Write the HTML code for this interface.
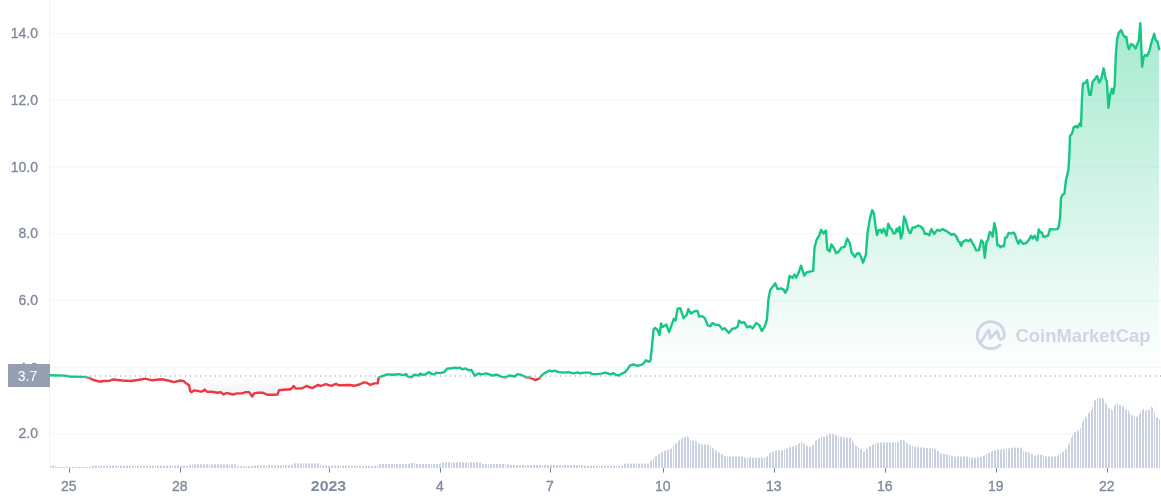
<!DOCTYPE html>
<html lang="en"><head><meta charset="utf-8"><title>Price chart</title>
<style>
html,body{margin:0;padding:0;background:#fff;}
body{width:1161px;height:500px;overflow:hidden;}
svg{display:block;will-change:transform}
text{font-family:"Liberation Sans",sans-serif;}
.yl{font-size:14px;fill:#808a9d;text-anchor:end;stroke:#808a9d;stroke-width:0.35px}
.xl{font-size:14px;fill:#808a9d;text-anchor:middle;stroke:#808a9d;stroke-width:0.35px}
.xb{font-weight:bold;stroke-width:0}
</style></head><body>
<svg width="1161" height="500" viewBox="0 0 1161 500">
<defs>
<linearGradient id="gUp" gradientUnits="userSpaceOnUse" x1="0" y1="20" x2="0" y2="376.0">
<stop offset="0" stop-color="#16c784" stop-opacity="0.38"/><stop offset="1" stop-color="#16c784" stop-opacity="0"/></linearGradient>
<linearGradient id="gDn" gradientUnits="userSpaceOnUse" x1="0" y1="376.0" x2="0" y2="400">
<stop offset="0" stop-color="#8a93a8" stop-opacity="0"/><stop offset="1" stop-color="#8a93a8" stop-opacity="0.16"/></linearGradient>
<clipPath id="cUp"><rect x="0" y="0" width="1161" height="377.6"/></clipPath>
<clipPath id="cDn"><rect x="0" y="377.6" width="1161" height="122.39999999999998"/></clipPath>
</defs>
<rect width="1161" height="500" fill="#fff"/>

<line x1="50" x2="1161" y1="33.5" y2="33.5" stroke="#f4f6f9" stroke-width="1"/>
<line x1="50" x2="1161" y1="100.4" y2="100.4" stroke="#f4f6f9" stroke-width="1"/>
<line x1="50" x2="1161" y1="167" y2="167" stroke="#f4f6f9" stroke-width="1"/>
<line x1="50" x2="1161" y1="233.7" y2="233.7" stroke="#f4f6f9" stroke-width="1"/>
<line x1="50" x2="1161" y1="300.6" y2="300.6" stroke="#f4f6f9" stroke-width="1"/>
<line x1="50" x2="1161" y1="367.3" y2="367.3" stroke="#f4f6f9" stroke-width="1"/>
<line x1="50" x2="1161" y1="433.8" y2="433.8" stroke="#f4f6f9" stroke-width="1"/>
<line x1="49.5" x2="49.5" y1="0" y2="466" stroke="#f0f2f6" stroke-width="1"/>
<text class="yl" x="38" y="38.1">14.0</text>
<text class="yl" x="38" y="105">12.0</text>
<text class="yl" x="38" y="171.6">10.0</text>
<text class="yl" x="38" y="238.3">8.0</text>
<text class="yl" x="38" y="305.2">6.0</text>
<text class="yl" x="38" y="372.6">4.0</text>
<text class="yl" x="38" y="438.4">2.0</text>
<path d="M50.5 468.0v-2.6M52.5 468.0v-2.6M53.5 468.0v-2.6M55.5 468.0v-1.9M56.5 468.0v-1.1M58.5 468.0v-1.1M59.5 468.0v-1.1M61.5 468.0v-1.1M63.5 468.0v-1.1M64.5 468.0v-1.1M66.5 468.0v-1.1M67.5 468.0v-1.1M69.5 468.0v-1.1M70.5 468.0v-1.1M72.5 468.0v-1.1M73.5 468.0v-1.1M75.5 468.0v-1.1M76.5 468.0v-1.1M78.5 468.0v-1.1M79.5 468.0v-1.1M81.5 468.0v-1.1M83.5 468.0v-1.1M84.5 468.0v-1.1M86.5 468.0v-1.1M87.5 468.0v-1.1M89.5 468.0v-1.1M90.5 468.0v-1.4M92.5 468.0v-2.3M93.5 468.0v-2.3M95.5 468.0v-2.3M96.5 468.0v-2.3M98.5 468.0v-2.3M100.5 468.0v-2.3M101.5 468.0v-2.3M103.5 468.0v-2.3M104.5 468.0v-2.3M106.5 468.0v-2.3M107.5 468.0v-2.3M109.5 468.0v-2.3M110.5 468.0v-2.3M112.5 468.0v-2.3M113.5 468.0v-2.3M115.5 468.0v-2.3M116.5 468.0v-2.3M118.5 468.0v-2.3M120.5 468.0v-2.3M121.5 468.0v-2.3M123.5 468.0v-2.3M124.5 468.0v-2.3M126.5 468.0v-2.3M127.5 468.0v-2.3M129.5 468.0v-2.3M130.5 468.0v-2.3M132.5 468.0v-2.3M133.5 468.0v-2.3M135.5 468.0v-2.3M137.5 468.0v-2.3M138.5 468.0v-2.3M140.5 468.0v-2.3M141.5 468.0v-2.3M143.5 468.0v-2.3M144.5 468.0v-2.3M146.5 468.0v-2.3M147.5 468.0v-2.3M149.5 468.0v-2.3M150.5 468.0v-2.3M152.5 468.0v-2.3M153.5 468.0v-2.3M155.5 468.0v-2.3M157.5 468.0v-2.3M158.5 468.0v-2.3M160.5 468.0v-2.3M161.5 468.0v-2.3M163.5 468.0v-2.3M164.5 468.0v-2.3M166.5 468.0v-2.3M167.5 468.0v-2.3M169.5 468.0v-2.3M170.5 468.0v-2.3M172.5 468.0v-2.3M174.5 468.0v-2.3M175.5 468.0v-2.3M177.5 468.0v-2.3M178.5 468.0v-2.3M180.5 468.0v-2.3M181.5 468.0v-2.3M183.5 468.0v-2.3M184.5 468.0v-2.3M186.5 468.0v-2.3M187.5 468.0v-2.3M189.5 468.0v-2.6M190.5 468.0v-3.4M192.5 468.0v-3.7M194.5 468.0v-3.7M195.5 468.0v-3.7M197.5 468.0v-3.7M198.5 468.0v-3.7M200.5 468.0v-3.7M201.5 468.0v-3.7M203.5 468.0v-3.7M204.5 468.0v-3.7M206.5 468.0v-3.7M207.5 468.0v-3.7M209.5 468.0v-3.7M211.5 468.0v-3.7M212.5 468.0v-3.7M214.5 468.0v-3.7M215.5 468.0v-3.7M217.5 468.0v-3.7M218.5 468.0v-3.7M220.5 468.0v-3.7M221.5 468.0v-3.7M223.5 468.0v-3.7M224.5 468.0v-3.7M226.5 468.0v-3.7M227.5 468.0v-3.7M229.5 468.0v-3.7M231.5 468.0v-3.7M232.5 468.0v-3.7M234.5 468.0v-3.7M235.5 468.0v-3.2M237.5 468.0v-1.8M238.5 468.0v-1.8M240.5 468.0v-1.8M241.5 468.0v-1.8M243.5 468.0v-1.8M244.5 468.0v-1.8M246.5 468.0v-1.8M248.5 468.0v-1.8M249.5 468.0v-1.8M251.5 468.0v-1.8M252.5 468.0v-1.8M254.5 468.0v-2.5M255.5 468.0v-2.8M257.5 468.0v-2.8M258.5 468.0v-2.8M260.5 468.0v-2.8M261.5 468.0v-2.8M263.5 468.0v-2.8M264.5 468.0v-2.8M266.5 468.0v-2.8M268.5 468.0v-2.8M269.5 468.0v-2.8M271.5 468.0v-2.8M272.5 468.0v-2.8M274.5 468.0v-2.8M275.5 468.0v-2.8M277.5 468.0v-2.8M278.5 468.0v-2.8M280.5 468.0v-2.8M281.5 468.0v-2.8M283.5 468.0v-2.8M285.5 468.0v-2.8M286.5 468.0v-2.8M288.5 468.0v-2.8M289.5 468.0v-2.8M291.5 468.0v-2.8M292.5 468.0v-3.2M294.5 468.0v-4.6M295.5 468.0v-4.6M297.5 468.0v-4.6M298.5 468.0v-4.6M300.5 468.0v-4.6M301.5 468.0v-4.6M303.5 468.0v-4.6M305.5 468.0v-4.6M306.5 468.0v-4.6M308.5 468.0v-4.6M309.5 468.0v-4.6M311.5 468.0v-4.6M312.5 468.0v-4.6M314.5 468.0v-4.6M315.5 468.0v-4.6M317.5 468.0v-4.6M318.5 468.0v-4.6M320.5 468.0v-3.1M322.5 468.0v-2.6M323.5 468.0v-2.6M325.5 468.0v-2.6M326.5 468.0v-2.6M328.5 468.0v-2.5M329.5 468.0v-2.5M331.5 468.0v-2.5M332.5 468.0v-2.5M334.5 468.0v-2.5M335.5 468.0v-2.5M337.5 468.0v-2.5M338.5 468.0v-2.5M340.5 468.0v-2.5M342.5 468.0v-2.5M343.5 468.0v-2.4M345.5 468.0v-2.4M346.5 468.0v-2.4M348.5 468.0v-2.4M349.5 468.0v-2.4M351.5 468.0v-2.4M352.5 468.0v-2.4M354.5 468.0v-2.4M355.5 468.0v-2.3M357.5 468.0v-2.3M359.5 468.0v-2.3M360.5 468.0v-2.3M362.5 468.0v-2.3M363.5 468.0v-2.2M365.5 468.0v-2.2M366.5 468.0v-2.2M368.5 468.0v-2.2M369.5 468.0v-2.2M371.5 468.0v-2.2M372.5 468.0v-2.1M374.5 468.0v-2.1M375.5 468.0v-2.1M377.5 468.0v-2.6M379.5 468.0v-4.1M380.5 468.0v-4.1M382.5 468.0v-4.1M383.5 468.0v-4.1M385.5 468.0v-4.1M386.5 468.0v-4.1M388.5 468.0v-4.1M389.5 468.0v-4.1M391.5 468.0v-4.1M392.5 468.0v-4.1M394.5 468.0v-4.1M396.5 468.0v-4.1M397.5 468.0v-4.1M399.5 468.0v-4.1M400.5 468.0v-4.1M402.5 468.0v-4.1M403.5 468.0v-4.1M405.5 468.0v-4.1M406.5 468.0v-4.1M408.5 468.0v-4.1M409.5 468.0v-4.4M411.5 468.0v-5.2M412.5 468.0v-5.2M414.5 468.0v-5.2M416.5 468.0v-4.3M417.5 468.0v-4M419.5 468.0v-4M420.5 468.0v-4M422.5 468.0v-4M423.5 468.0v-4M425.5 468.0v-4M426.5 468.0v-4M428.5 468.0v-4M429.5 468.0v-4M431.5 468.0v-4M433.5 468.0v-4M434.5 468.0v-4M436.5 468.0v-4M437.5 468.0v-4M439.5 468.0v-4.4M440.5 468.0v-5.3M442.5 468.0v-5.7M443.5 468.0v-5.7M445.5 468.0v-5.7M446.5 468.0v-5.7M448.5 468.0v-5.7M449.5 468.0v-5.7M451.5 468.0v-5.7M453.5 468.0v-5.7M454.5 468.0v-5.7M456.5 468.0v-5.7M457.5 468.0v-5.7M459.5 468.0v-5.7M460.5 468.0v-5.7M462.5 468.0v-5.7M463.5 468.0v-5.7M465.5 468.0v-5.7M466.5 468.0v-5.7M468.5 468.0v-5.7M470.5 468.0v-5.7M471.5 468.0v-5.7M473.5 468.0v-5.7M474.5 468.0v-5.7M476.5 468.0v-5.7M477.5 468.0v-5.7M479.5 468.0v-5.7M480.5 468.0v-5.7M482.5 468.0v-4.4M483.5 468.0v-4M485.5 468.0v-4M486.5 468.0v-4M488.5 468.0v-4M490.5 468.0v-4M491.5 468.0v-4M493.5 468.0v-4M494.5 468.0v-4M496.5 468.0v-4M497.5 468.0v-4M499.5 468.0v-4M500.5 468.0v-4M502.5 468.0v-4M503.5 468.0v-4M505.5 468.0v-4M507.5 468.0v-3.8M508.5 468.0v-3.2M510.5 468.0v-3M511.5 468.0v-3M513.5 468.0v-3M514.5 468.0v-3M516.5 468.0v-3M517.5 468.0v-3M519.5 468.0v-3M520.5 468.0v-3M522.5 468.0v-3M523.5 468.0v-3M525.5 468.0v-3M527.5 468.0v-3M528.5 468.0v-3M530.5 468.0v-3M531.5 468.0v-3M533.5 468.0v-3M534.5 468.0v-3M536.5 468.0v-3M537.5 468.0v-3M539.5 468.0v-3M540.5 468.0v-3M542.5 468.0v-3M544.5 468.0v-3M545.5 468.0v-3M547.5 468.0v-3M548.5 468.0v-3M550.5 468.0v-3M551.5 468.0v-3M553.5 468.0v-3M554.5 468.0v-3M556.5 468.0v-3M557.5 468.0v-3M559.5 468.0v-3M560.5 468.0v-3M562.5 468.0v-3M564.5 468.0v-3M565.5 468.0v-3M567.5 468.0v-3M568.5 468.0v-3M570.5 468.0v-3M571.5 468.0v-3M573.5 468.0v-3M574.5 468.0v-3M576.5 468.0v-3M577.5 468.0v-3M579.5 468.0v-3M581.5 468.0v-3M582.5 468.0v-2.8M584.5 468.0v-2.3M585.5 468.0v-2.3M587.5 468.0v-2.3M588.5 468.0v-2.3M590.5 468.0v-2.3M591.5 468.0v-2.3M593.5 468.0v-2.3M594.5 468.0v-2.3M596.5 468.0v-2.3M597.5 468.0v-2.3M599.5 468.0v-2.3M601.5 468.0v-2.3M602.5 468.0v-2.3M604.5 468.0v-2.3M605.5 468.0v-2.3M607.5 468.0v-2.3M608.5 468.0v-2.3M610.5 468.0v-2.3M611.5 468.0v-2.3M613.5 468.0v-2.3M614.5 468.0v-2.3M616.5 468.0v-2.3M618.5 468.0v-2.3M619.5 468.0v-2.3M621.5 468.0v-2.3M622.5 468.0v-2.3M624.5 468.0v-4M625.5 468.0v-4.5M627.5 468.0v-4.5M628.5 468.0v-4.5M630.5 468.0v-4.5M631.5 468.0v-4.5M633.5 468.0v-4.5M634.5 468.0v-4.5M636.5 468.0v-4.5M638.5 468.0v-4.5M639.5 468.0v-4.5M641.5 468.0v-4.5M642.5 468.0v-4.5M644.5 468.0v-4.5M645.5 468.0v-4.5M647.5 468.0v-4.5M648.5 468.0v-4.5M650.5 468.0v-6.5M651.5 468.0v-7.9M653.5 468.0v-10M655.5 468.0v-11.5M656.5 468.0v-12.3M658.5 468.0v-13.7M659.5 468.0v-14.3M661.5 468.0v-15.6M662.5 468.0v-16.2M664.5 468.0v-17.2M665.5 468.0v-17.5M667.5 468.0v-18.2M668.5 468.0v-18.5M670.5 468.0v-19.2M671.5 468.0v-19.6M673.5 468.0v-22M675.5 468.0v-24.3M676.5 468.0v-25.5M678.5 468.0v-27.2M679.5 468.0v-28M681.5 468.0v-29.7M682.5 468.0v-30.1M684.5 468.0v-30.8M685.5 468.0v-31.2M687.5 468.0v-32M688.5 468.0v-30.8M690.5 468.0v-28M692.5 468.0v-27.6M693.5 468.0v-27.3M695.5 468.0v-26.8M696.5 468.0v-26.2M698.5 468.0v-25M699.5 468.0v-24.4M701.5 468.0v-23.7M702.5 468.0v-23.7M704.5 468.0v-23.6M705.5 468.0v-23.6M707.5 468.0v-23.5M708.5 468.0v-23.5M710.5 468.0v-22.3M712.5 468.0v-20.4M713.5 468.0v-19.5M715.5 468.0v-17.9M716.5 468.0v-17.2M718.5 468.0v-15.9M719.5 468.0v-15.2M721.5 468.0v-14.1M722.5 468.0v-13.6M724.5 468.0v-12.5M725.5 468.0v-11.9M727.5 468.0v-11.4M729.5 468.0v-11.4M730.5 468.0v-11.4M732.5 468.0v-11.4M733.5 468.0v-11.4M735.5 468.0v-11.4M736.5 468.0v-11.4M738.5 468.0v-11.4M739.5 468.0v-11.4M741.5 468.0v-11.4M742.5 468.0v-11.2M744.5 468.0v-10.6M745.5 468.0v-10.3M747.5 468.0v-10.3M749.5 468.0v-10.3M750.5 468.0v-10.3M752.5 468.0v-10.3M753.5 468.0v-10.3M755.5 468.0v-10.3M756.5 468.0v-10.3M758.5 468.0v-10.3M759.5 468.0v-10.3M761.5 468.0v-10.3M762.5 468.0v-10.3M764.5 468.0v-10.3M766.5 468.0v-10.9M767.5 468.0v-12.3M769.5 468.0v-15.1M770.5 468.0v-15.5M772.5 468.0v-16.3M773.5 468.0v-16.7M775.5 468.0v-17.3M776.5 468.0v-17.4M778.5 468.0v-17.6M779.5 468.0v-17.7M781.5 468.0v-17.9M782.5 468.0v-18M784.5 468.0v-18.2M786.5 468.0v-19.1M787.5 468.0v-19.7M789.5 468.0v-20.8M790.5 468.0v-21.2M792.5 468.0v-21.6M793.5 468.0v-21.7M795.5 468.0v-22.1M796.5 468.0v-22.9M798.5 468.0v-24.3M799.5 468.0v-25M801.5 468.0v-26.3M803.5 468.0v-24.7M804.5 468.0v-23.9M806.5 468.0v-22.6M807.5 468.0v-22.2M809.5 468.0v-21.5M810.5 468.0v-21.1M812.5 468.0v-22M813.5 468.0v-23.8M815.5 468.0v-27.1M816.5 468.0v-27.8M818.5 468.0v-29.1M819.5 468.0v-29.8M821.5 468.0v-30.9M823.5 468.0v-31.2M824.5 468.0v-31.4M826.5 468.0v-32.4M827.5 468.0v-33.1M829.5 468.0v-34.4M830.5 468.0v-34.3M832.5 468.0v-34M833.5 468.0v-33.9M835.5 468.0v-33.3M836.5 468.0v-32.8M838.5 468.0v-31.8M840.5 468.0v-31.3M841.5 468.0v-31.1M843.5 468.0v-30.7M844.5 468.0v-30.6M846.5 468.0v-30.3M847.5 468.0v-30.3M849.5 468.0v-30.3M850.5 468.0v-30.3M852.5 468.0v-27.5M853.5 468.0v-25.6M855.5 468.0v-23M856.5 468.0v-22.3M858.5 468.0v-20.8M860.5 468.0v-19.2M861.5 468.0v-18.3M863.5 468.0v-16.4M864.5 468.0v-16.6M866.5 468.0v-18.6M867.5 468.0v-19.6M869.5 468.0v-21.4M870.5 468.0v-22M872.5 468.0v-23.1M873.5 468.0v-23.7M875.5 468.0v-24.7M877.5 468.0v-25.2M878.5 468.0v-25.5M880.5 468.0v-25.5M881.5 468.0v-25.5M883.5 468.0v-25.5M884.5 468.0v-25.5M886.5 468.0v-25.5M887.5 468.0v-25.5M889.5 468.0v-25.5M890.5 468.0v-25.5M892.5 468.0v-25.5M893.5 468.0v-25.5M895.5 468.0v-25.5M897.5 468.0v-25.5M898.5 468.0v-26.1M900.5 468.0v-27.5M901.5 468.0v-28.1M903.5 468.0v-28.2M904.5 468.0v-27.2M906.5 468.0v-25.4M907.5 468.0v-24.4M909.5 468.0v-23.4M910.5 468.0v-23M912.5 468.0v-22.1M914.5 468.0v-21.3M915.5 468.0v-21.1M917.5 468.0v-20.9M918.5 468.0v-20.8M920.5 468.0v-20.6M921.5 468.0v-20.5M923.5 468.0v-20.3M924.5 468.0v-20.2M926.5 468.0v-20.1M927.5 468.0v-20M929.5 468.0v-19.9M930.5 468.0v-19.8M932.5 468.0v-19.6M934.5 468.0v-19.5M935.5 468.0v-18.7M937.5 468.0v-17.2M938.5 468.0v-16.4M940.5 468.0v-14.9M941.5 468.0v-14.6M943.5 468.0v-14.2M944.5 468.0v-14M946.5 468.0v-13.6M947.5 468.0v-13.4M949.5 468.0v-12.8M951.5 468.0v-12.2M952.5 468.0v-11.9M954.5 468.0v-11.4M955.5 468.0v-11.4M957.5 468.0v-11.4M958.5 468.0v-11.4M960.5 468.0v-11.4M961.5 468.0v-11.4M963.5 468.0v-11.4M964.5 468.0v-11.4M966.5 468.0v-11.4M967.5 468.0v-11.2M969.5 468.0v-10.8M971.5 468.0v-10.4M972.5 468.0v-10.4M974.5 468.0v-10.5M975.5 468.0v-10.5M977.5 468.0v-10.6M978.5 468.0v-10.7M980.5 468.0v-10.8M981.5 468.0v-10.8M983.5 468.0v-12M984.5 468.0v-12.8M986.5 468.0v-14M988.5 468.0v-15M989.5 468.0v-15.5M991.5 468.0v-16.5M992.5 468.0v-16.9M994.5 468.0v-17.5M995.5 468.0v-17.7M997.5 468.0v-18.3M998.5 468.0v-18.3M1000.5 468.0v-18.3M1001.5 468.0v-18.4M1003.5 468.0v-18.7M1004.5 468.0v-18.8M1006.5 468.0v-19.2M1008.5 468.0v-19.5M1009.5 468.0v-19.7M1011.5 468.0v-20M1012.5 468.0v-20.2M1014.5 468.0v-20.4M1015.5 468.0v-20.4M1017.5 468.0v-20.4M1018.5 468.0v-20.4M1020.5 468.0v-20.3M1021.5 468.0v-19.2M1023.5 468.0v-17M1025.5 468.0v-16.3M1026.5 468.0v-16M1028.5 468.0v-15.6M1029.5 468.0v-15.4M1031.5 468.0v-14.3M1032.5 468.0v-13.7M1034.5 468.0v-12.6M1035.5 468.0v-12.6M1037.5 468.0v-13M1038.5 468.0v-13.3M1040.5 468.0v-13.4M1041.5 468.0v-13.1M1043.5 468.0v-12.4M1045.5 468.0v-11.7M1046.5 468.0v-11.5M1048.5 468.0v-11.5M1049.5 468.0v-11.5M1051.5 468.0v-11.4M1052.5 468.0v-11.4M1054.5 468.0v-11.3M1055.5 468.0v-11.3M1057.5 468.0v-11.8M1058.5 468.0v-13M1060.5 468.0v-14.7M1062.5 468.0v-15.9M1063.5 468.0v-16.5M1065.5 468.0v-18.4M1066.5 468.0v-19.4M1068.5 468.0v-23.2M1069.5 468.0v-25.5M1071.5 468.0v-30.3M1072.5 468.0v-32.7M1074.5 468.0v-35.1M1075.5 468.0v-36.1M1077.5 468.0v-37.2M1078.5 468.0v-37.7M1080.5 468.0v-40.1M1082.5 468.0v-45.8M1083.5 468.0v-48.3M1085.5 468.0v-50.3M1086.5 468.0v-51.3M1088.5 468.0v-54.7M1089.5 468.0v-56.3M1091.5 468.0v-58M1092.5 468.0v-61.2M1094.5 468.0v-67.4M1095.5 468.0v-68.4M1097.5 468.0v-69.8M1099.5 468.0v-69.9M1100.5 468.0v-70M1102.5 468.0v-70.2M1103.5 468.0v-69.4M1105.5 468.0v-64.8M1106.5 468.0v-63.8M1108.5 468.0v-60.6M1109.5 468.0v-59.1M1111.5 468.0v-58M1112.5 468.0v-57.4M1114.5 468.0v-61.5M1115.5 468.0v-64.2M1117.5 468.0v-64.7M1119.5 468.0v-63M1120.5 468.0v-62.6M1122.5 468.0v-62M1123.5 468.0v-61.3M1125.5 468.0v-58.7M1126.5 468.0v-58.6M1128.5 468.0v-57.9M1129.5 468.0v-54.9M1131.5 468.0v-52.9M1132.5 468.0v-52.7M1134.5 468.0v-51.6M1136.5 468.0v-51M1137.5 468.0v-51.7M1139.5 468.0v-53.9M1140.5 468.0v-55.6M1142.5 468.0v-58.2M1143.5 468.0v-59.3M1145.5 468.0v-57.2M1146.5 468.0v-57.4M1148.5 468.0v-58M1149.5 468.0v-58.3M1151.5 468.0v-61.2M1152.5 468.0v-60.3M1154.5 468.0v-55.2M1156.5 468.0v-50.9M1157.5 468.0v-50.2M1159.5 468.0v-48.8" stroke="#c9d0e2" stroke-width="1" fill="none"/>
<path d="M50 375.3 L65.5 375.6 L70.7 376.8 L84.1 376.9 L89.3 377.9 L93.4 380 L99.6 381.7 L103.7 381 L109.9 380.7 L113 379.5 L122.4 380.5 L130.6 381 L137.9 380 L145.1 378.6 L152.3 380.3 L161.6 379.3 L170 381 L174.1 382.1 L180.3 380.5 L183.4 381 L186.5 383.6 L189.1 385.2 L190.2 391.4 L191.7 392.1 L194.3 390.3 L201 391.7 L203.6 390.8 L204.6 389.6 L207.2 391.9 L211.3 391.7 L217.5 392.7 L220.6 392.1 L223.7 394.5 L226.3 392.9 L233 394.5 L237.2 393.4 L242.4 393.4 L245.5 392.1 L249.1 392.1 L252.2 396.5 L254.2 393.4 L257.9 392.7 L263 392.7 L267.2 394.8 L273.4 394.8 L277.5 394.5 L279 390.3 L283.7 389.8 L290 389.3 L290 389.6 L292.1 388.1 L293.6 386 L295.7 388.6 L302.4 388.3 L306.5 386 L312.2 388.1 L317.9 385 L321 386 L325.7 384.1 L331.3 385.8 L336 383.9 L338.6 385.2 L349.9 385 L354.1 385.8 L359.3 384.5 L363.9 382.4 L367 382.9 L370.1 384.8 L374.2 383.4 L377.6 383.4 L378.7 377.7 L381 376.7 L387.2 374.4 L393.4 374.8 L398.5 374.1 L403.7 375.2 L406.3 374.1 L407.8 376.7 L410 377.2 L412.1 376.9 L414.1 374.6 L418.8 375.5 L420.3 373.6 L422.4 374.8 L425.5 374.6 L428.6 372.1 L432.2 374.1 L434.3 374.4 L436.4 372.6 L440 373.1 L444.1 372.1 L447.2 368.6 L451.3 368.2 L454.4 367.6 L457 368.2 L459.6 367.6 L462.2 369.3 L465.8 368.4 L468.4 370.3 L471.5 370 L474.6 375.7 L478.7 373.4 L481.3 374.4 L486.5 373.4 L492.7 375.7 L495.8 374.6 L498.9 375.5 L501.5 376.9 L506.1 377.2 L509.2 375.5 L514.9 376.5 L517.5 374.1 L522.1 375.2 L525.8 377.2 L530 377.5 L532.1 378.6 L535.2 380 L538.8 378.8 L542.4 374.8 L545.5 372.6 L549.6 370.5 L552.2 371.5 L554.3 370.7 L558.9 372.1 L563.1 372.6 L568.2 372.1 L573.4 373.4 L577.5 372.4 L580.6 373.4 L583.7 372.6 L589.9 372.6 L592 374.1 L596.1 374.1 L601.3 373.6 L605.5 372.6 L610.6 374.4 L613.2 373.1 L615.8 374.8 L618.9 375.5 L622 373.6 L625.1 372.1 L627.7 369 L630.3 365.3 L633.4 364.5 L637.5 365.9 L642.7 364.3 L646.1 360.3 L648.8 361.9 L650.4 360.6 L652 346.2 L653.6 329.4 L655.2 327.8 L657.6 330.2 L659.5 335 L661.1 323.5 L662.7 327 L666.4 324.6 L669.1 332.1 L672 323.8 L673.9 318.7 L675.5 320.6 L677.6 308.6 L680.3 308.1 L683.5 318.2 L686.7 315 L688.3 309.1 L690.9 313.4 L695.2 311 L697.6 311 L699.2 316.6 L702.4 316.1 L704.8 318.2 L708 325.7 L710.4 326.2 L712.3 323 L715.2 324.6 L719.2 325.1 L722.4 329.4 L724.8 328.3 L728.8 333.1 L732 328.9 L735.2 328.3 L737.6 326.7 L739 320.7 L741.6 322.9 L744.2 322.2 L747.1 327.3 L750 326.2 L752.6 328.4 L756.3 322.9 L759.2 325.1 L761.8 331 L764.7 326.6 L766.9 319.6 L768.4 299.8 L770.2 289.9 L772.8 286.6 L775.3 283.3 L777.5 289.2 L781.2 288.4 L783.8 289.9 L785.2 292.8 L787.4 288.8 L789.6 276 L792.6 277.8 L794.4 274.5 L796.2 277.8 L798.8 272.3 L801 265.7 L804.3 275.6 L806.5 272.3 L813.1 270.8 L814.6 247 L816.8 239.3 L819 236 L821.2 229.8 L823.4 233.4 L825.9 230.5 L827.4 249.6 L829.6 251.4 L831.4 244.4 L834 248.1 L836.2 253.2 L838.8 251.4 L841.7 247.4 L844.6 247 L847.2 238.6 L849.8 243 L851.6 252.5 L854.9 256.9 L857.1 253.5 L859.2 253.2 L860.9 256.7 L863 262.7 L865.9 254.6 L867.6 232.2 L869.7 219.6 L872.1 210.1 L873.9 213.3 L875.6 226.6 L877 235 L878.8 230.1 L880.5 229.7 L882 232.9 L883.7 228.7 L885.1 231.5 L886.5 235.7 L888.2 223.8 L890 228 L891.7 229.4 L893.5 233.6 L895.2 233.3 L896.7 228.7 L898.1 231.5 L899.5 226.9 L900.9 238.5 L902.6 232.9 L904 216.5 L905.7 220.3 L907.9 228.7 L909.6 232.9 L910.7 232.9 L912.4 227.7 L915.2 227.3 L918.3 225.5 L920.8 226.6 L923.2 229.1 L924.7 233.9 L927.1 233.6 L929.2 235.3 L931.3 229.1 L934.1 233.9 L937.3 229.7 L939.7 230.8 L942.5 229.1 L946 230.8 L951.6 234.7 L953.7 233.9 L956.5 236.7 L958.3 241.3 L959.7 242 L961.1 245.9 L962.8 242 L965.9 239.9 L968.7 241.3 L970.5 239.2 L972.6 243.4 L974 245.5 L976.1 250.4 L978.9 250.1 L981.3 240.3 L983.1 242 L984.8 257.7 L986.5 242 L987.9 239.9 L989.7 231.9 L991.5 233.3 L992.6 236.7 L994.3 223.1 L996 230.1 L997.4 245.5 L999.1 245.1 L1000.6 247.3 L1002.3 245.9 L1004 246.2 L1005.1 237.8 L1006.9 237.1 L1008.6 232.9 L1011.7 233.6 L1013.5 232.5 L1014.9 234.3 L1016.7 239.9 L1018.4 243.7 L1020.1 239.9 L1022.9 243.7 L1026.1 243.1 L1028.9 239.9 L1031 235.7 L1032.7 238.5 L1034.5 235.7 L1037.3 240.3 L1038.7 229.4 L1040.5 232.5 L1041.9 232.5 L1043.6 237.1 L1046.4 236.1 L1048.1 235.7 L1049.9 229.1 L1053.4 229.4 L1057.6 229.1 L1059 225.9 L1060.1 216.8 L1061 198 L1062.4 195 L1064.4 193.6 L1066 180 L1068.4 170 L1069.6 150 L1070 136 L1072 133.6 L1073.6 127.6 L1076 126 L1077.6 127.6 L1079.6 123.6 L1081 126 L1082 98 L1082.9 83.7 L1085.6 82.6 L1087.1 80 L1089.3 94.7 L1090.8 94.7 L1092.6 81.5 L1094.8 79.3 L1097 76 L1099.2 82.6 L1101.4 78.2 L1103.6 68.3 L1105.8 79.3 L1106.9 81.5 L1108.4 107.9 L1110.2 94.7 L1112 88.8 L1113.3 93.6 L1114.6 85.9 L1115.9 54 L1117.2 38.6 L1119 32.4 L1121.2 30.2 L1123.4 35.3 L1125.2 37.5 L1126.3 36.8 L1127.8 46.3 L1129.1 49.2 L1130.9 44.1 L1133.3 45.2 L1135.5 48.5 L1137.3 44.1 L1138.8 40.8 L1140.3 23.2 L1142.1 66.8 L1143.6 57.3 L1145 55.1 L1147.2 55.8 L1149.4 50.7 L1151.6 41.9 L1154.2 33.8 L1155.8 40.5 L1157.6 41.5 L1158.7 47.5 L1159.2 49 L1159.2 376.0 L50 376.0 Z" fill="url(#gUp)" clip-path="url(#cUp)"/>
<path d="M50 375.3 L65.5 375.6 L70.7 376.8 L84.1 376.9 L89.3 377.9 L93.4 380 L99.6 381.7 L103.7 381 L109.9 380.7 L113 379.5 L122.4 380.5 L130.6 381 L137.9 380 L145.1 378.6 L152.3 380.3 L161.6 379.3 L170 381 L174.1 382.1 L180.3 380.5 L183.4 381 L186.5 383.6 L189.1 385.2 L190.2 391.4 L191.7 392.1 L194.3 390.3 L201 391.7 L203.6 390.8 L204.6 389.6 L207.2 391.9 L211.3 391.7 L217.5 392.7 L220.6 392.1 L223.7 394.5 L226.3 392.9 L233 394.5 L237.2 393.4 L242.4 393.4 L245.5 392.1 L249.1 392.1 L252.2 396.5 L254.2 393.4 L257.9 392.7 L263 392.7 L267.2 394.8 L273.4 394.8 L277.5 394.5 L279 390.3 L283.7 389.8 L290 389.3 L290 389.6 L292.1 388.1 L293.6 386 L295.7 388.6 L302.4 388.3 L306.5 386 L312.2 388.1 L317.9 385 L321 386 L325.7 384.1 L331.3 385.8 L336 383.9 L338.6 385.2 L349.9 385 L354.1 385.8 L359.3 384.5 L363.9 382.4 L367 382.9 L370.1 384.8 L374.2 383.4 L377.6 383.4 L378.7 377.7 L381 376.7 L387.2 374.4 L393.4 374.8 L398.5 374.1 L403.7 375.2 L406.3 374.1 L407.8 376.7 L410 377.2 L412.1 376.9 L414.1 374.6 L418.8 375.5 L420.3 373.6 L422.4 374.8 L425.5 374.6 L428.6 372.1 L432.2 374.1 L434.3 374.4 L436.4 372.6 L440 373.1 L444.1 372.1 L447.2 368.6 L451.3 368.2 L454.4 367.6 L457 368.2 L459.6 367.6 L462.2 369.3 L465.8 368.4 L468.4 370.3 L471.5 370 L474.6 375.7 L478.7 373.4 L481.3 374.4 L486.5 373.4 L492.7 375.7 L495.8 374.6 L498.9 375.5 L501.5 376.9 L506.1 377.2 L509.2 375.5 L514.9 376.5 L517.5 374.1 L522.1 375.2 L525.8 377.2 L530 377.5 L532.1 378.6 L535.2 380 L538.8 378.8 L542.4 374.8 L545.5 372.6 L549.6 370.5 L552.2 371.5 L554.3 370.7 L558.9 372.1 L563.1 372.6 L568.2 372.1 L573.4 373.4 L577.5 372.4 L580.6 373.4 L583.7 372.6 L589.9 372.6 L592 374.1 L596.1 374.1 L601.3 373.6 L605.5 372.6 L610.6 374.4 L613.2 373.1 L615.8 374.8 L618.9 375.5 L622 373.6 L625.1 372.1 L627.7 369 L630.3 365.3 L633.4 364.5 L637.5 365.9 L642.7 364.3 L646.1 360.3 L648.8 361.9 L650.4 360.6 L652 346.2 L653.6 329.4 L655.2 327.8 L657.6 330.2 L659.5 335 L661.1 323.5 L662.7 327 L666.4 324.6 L669.1 332.1 L672 323.8 L673.9 318.7 L675.5 320.6 L677.6 308.6 L680.3 308.1 L683.5 318.2 L686.7 315 L688.3 309.1 L690.9 313.4 L695.2 311 L697.6 311 L699.2 316.6 L702.4 316.1 L704.8 318.2 L708 325.7 L710.4 326.2 L712.3 323 L715.2 324.6 L719.2 325.1 L722.4 329.4 L724.8 328.3 L728.8 333.1 L732 328.9 L735.2 328.3 L737.6 326.7 L739 320.7 L741.6 322.9 L744.2 322.2 L747.1 327.3 L750 326.2 L752.6 328.4 L756.3 322.9 L759.2 325.1 L761.8 331 L764.7 326.6 L766.9 319.6 L768.4 299.8 L770.2 289.9 L772.8 286.6 L775.3 283.3 L777.5 289.2 L781.2 288.4 L783.8 289.9 L785.2 292.8 L787.4 288.8 L789.6 276 L792.6 277.8 L794.4 274.5 L796.2 277.8 L798.8 272.3 L801 265.7 L804.3 275.6 L806.5 272.3 L813.1 270.8 L814.6 247 L816.8 239.3 L819 236 L821.2 229.8 L823.4 233.4 L825.9 230.5 L827.4 249.6 L829.6 251.4 L831.4 244.4 L834 248.1 L836.2 253.2 L838.8 251.4 L841.7 247.4 L844.6 247 L847.2 238.6 L849.8 243 L851.6 252.5 L854.9 256.9 L857.1 253.5 L859.2 253.2 L860.9 256.7 L863 262.7 L865.9 254.6 L867.6 232.2 L869.7 219.6 L872.1 210.1 L873.9 213.3 L875.6 226.6 L877 235 L878.8 230.1 L880.5 229.7 L882 232.9 L883.7 228.7 L885.1 231.5 L886.5 235.7 L888.2 223.8 L890 228 L891.7 229.4 L893.5 233.6 L895.2 233.3 L896.7 228.7 L898.1 231.5 L899.5 226.9 L900.9 238.5 L902.6 232.9 L904 216.5 L905.7 220.3 L907.9 228.7 L909.6 232.9 L910.7 232.9 L912.4 227.7 L915.2 227.3 L918.3 225.5 L920.8 226.6 L923.2 229.1 L924.7 233.9 L927.1 233.6 L929.2 235.3 L931.3 229.1 L934.1 233.9 L937.3 229.7 L939.7 230.8 L942.5 229.1 L946 230.8 L951.6 234.7 L953.7 233.9 L956.5 236.7 L958.3 241.3 L959.7 242 L961.1 245.9 L962.8 242 L965.9 239.9 L968.7 241.3 L970.5 239.2 L972.6 243.4 L974 245.5 L976.1 250.4 L978.9 250.1 L981.3 240.3 L983.1 242 L984.8 257.7 L986.5 242 L987.9 239.9 L989.7 231.9 L991.5 233.3 L992.6 236.7 L994.3 223.1 L996 230.1 L997.4 245.5 L999.1 245.1 L1000.6 247.3 L1002.3 245.9 L1004 246.2 L1005.1 237.8 L1006.9 237.1 L1008.6 232.9 L1011.7 233.6 L1013.5 232.5 L1014.9 234.3 L1016.7 239.9 L1018.4 243.7 L1020.1 239.9 L1022.9 243.7 L1026.1 243.1 L1028.9 239.9 L1031 235.7 L1032.7 238.5 L1034.5 235.7 L1037.3 240.3 L1038.7 229.4 L1040.5 232.5 L1041.9 232.5 L1043.6 237.1 L1046.4 236.1 L1048.1 235.7 L1049.9 229.1 L1053.4 229.4 L1057.6 229.1 L1059 225.9 L1060.1 216.8 L1061 198 L1062.4 195 L1064.4 193.6 L1066 180 L1068.4 170 L1069.6 150 L1070 136 L1072 133.6 L1073.6 127.6 L1076 126 L1077.6 127.6 L1079.6 123.6 L1081 126 L1082 98 L1082.9 83.7 L1085.6 82.6 L1087.1 80 L1089.3 94.7 L1090.8 94.7 L1092.6 81.5 L1094.8 79.3 L1097 76 L1099.2 82.6 L1101.4 78.2 L1103.6 68.3 L1105.8 79.3 L1106.9 81.5 L1108.4 107.9 L1110.2 94.7 L1112 88.8 L1113.3 93.6 L1114.6 85.9 L1115.9 54 L1117.2 38.6 L1119 32.4 L1121.2 30.2 L1123.4 35.3 L1125.2 37.5 L1126.3 36.8 L1127.8 46.3 L1129.1 49.2 L1130.9 44.1 L1133.3 45.2 L1135.5 48.5 L1137.3 44.1 L1138.8 40.8 L1140.3 23.2 L1142.1 66.8 L1143.6 57.3 L1145 55.1 L1147.2 55.8 L1149.4 50.7 L1151.6 41.9 L1154.2 33.8 L1155.8 40.5 L1157.6 41.5 L1158.7 47.5 L1159.2 49 L1159.2 376.0 L50 376.0 Z" fill="url(#gDn)" clip-path="url(#cDn)"/>
<line x1="50" x2="1161" y1="376.0" y2="376.0" stroke="#a6b0c3" stroke-width="1.6" stroke-dasharray="1 4"/>
<g fill="none" stroke="#cfd4e6" stroke-width="2.8" stroke-linecap="round" stroke-linejoin="round">
<path d="M1000 345 A13.5 13.5 0 1 1 1004.3 335"/>
<path d="M981.2 341.8 L987.9 330.6 Q988.9 329.2 989.3 331 L990.2 338.4 L996.3 332 Q997.4 330.8 997.8 332.6 L999 337.6 Q999.8 340 1002 339 Q1004.4 337.8 1004.3 335"/>
</g>
<text x="1015.5" y="342.3" font-size="18.5" font-weight="bold" fill="#cfd4e6" textLength="135" lengthAdjust="spacingAndGlyphs">CoinMarketCap</text>
<g fill="none" stroke-width="2.4" stroke-linejoin="round" stroke-linecap="round">
<path d="M50 375.3 L65.5 375.6 L70.7 376.8 L84.1 376.9 L89.3 377.9 L93.4 380 L99.6 381.7 L103.7 381 L109.9 380.7 L113 379.5 L122.4 380.5 L130.6 381 L137.9 380 L145.1 378.6 L152.3 380.3 L161.6 379.3 L170 381 L174.1 382.1 L180.3 380.5 L183.4 381 L186.5 383.6 L189.1 385.2 L190.2 391.4 L191.7 392.1 L194.3 390.3 L201 391.7 L203.6 390.8 L204.6 389.6 L207.2 391.9 L211.3 391.7 L217.5 392.7 L220.6 392.1 L223.7 394.5 L226.3 392.9 L233 394.5 L237.2 393.4 L242.4 393.4 L245.5 392.1 L249.1 392.1 L252.2 396.5 L254.2 393.4 L257.9 392.7 L263 392.7 L267.2 394.8 L273.4 394.8 L277.5 394.5 L279 390.3 L283.7 389.8 L290 389.3 L290 389.6 L292.1 388.1 L293.6 386 L295.7 388.6 L302.4 388.3 L306.5 386 L312.2 388.1 L317.9 385 L321 386 L325.7 384.1 L331.3 385.8 L336 383.9 L338.6 385.2 L349.9 385 L354.1 385.8 L359.3 384.5 L363.9 382.4 L367 382.9 L370.1 384.8 L374.2 383.4 L377.6 383.4 L378.7 377.7 L381 376.7 L387.2 374.4 L393.4 374.8 L398.5 374.1 L403.7 375.2 L406.3 374.1 L407.8 376.7 L410 377.2 L412.1 376.9 L414.1 374.6 L418.8 375.5 L420.3 373.6 L422.4 374.8 L425.5 374.6 L428.6 372.1 L432.2 374.1 L434.3 374.4 L436.4 372.6 L440 373.1 L444.1 372.1 L447.2 368.6 L451.3 368.2 L454.4 367.6 L457 368.2 L459.6 367.6 L462.2 369.3 L465.8 368.4 L468.4 370.3 L471.5 370 L474.6 375.7 L478.7 373.4 L481.3 374.4 L486.5 373.4 L492.7 375.7 L495.8 374.6 L498.9 375.5 L501.5 376.9 L506.1 377.2 L509.2 375.5 L514.9 376.5 L517.5 374.1 L522.1 375.2 L525.8 377.2 L530 377.5 L532.1 378.6 L535.2 380 L538.8 378.8 L542.4 374.8 L545.5 372.6 L549.6 370.5 L552.2 371.5 L554.3 370.7 L558.9 372.1 L563.1 372.6 L568.2 372.1 L573.4 373.4 L577.5 372.4 L580.6 373.4 L583.7 372.6 L589.9 372.6 L592 374.1 L596.1 374.1 L601.3 373.6 L605.5 372.6 L610.6 374.4 L613.2 373.1 L615.8 374.8 L618.9 375.5 L622 373.6 L625.1 372.1 L627.7 369 L630.3 365.3 L633.4 364.5 L637.5 365.9 L642.7 364.3 L646.1 360.3 L648.8 361.9 L650.4 360.6 L652 346.2 L653.6 329.4 L655.2 327.8 L657.6 330.2 L659.5 335 L661.1 323.5 L662.7 327 L666.4 324.6 L669.1 332.1 L672 323.8 L673.9 318.7 L675.5 320.6 L677.6 308.6 L680.3 308.1 L683.5 318.2 L686.7 315 L688.3 309.1 L690.9 313.4 L695.2 311 L697.6 311 L699.2 316.6 L702.4 316.1 L704.8 318.2 L708 325.7 L710.4 326.2 L712.3 323 L715.2 324.6 L719.2 325.1 L722.4 329.4 L724.8 328.3 L728.8 333.1 L732 328.9 L735.2 328.3 L737.6 326.7 L739 320.7 L741.6 322.9 L744.2 322.2 L747.1 327.3 L750 326.2 L752.6 328.4 L756.3 322.9 L759.2 325.1 L761.8 331 L764.7 326.6 L766.9 319.6 L768.4 299.8 L770.2 289.9 L772.8 286.6 L775.3 283.3 L777.5 289.2 L781.2 288.4 L783.8 289.9 L785.2 292.8 L787.4 288.8 L789.6 276 L792.6 277.8 L794.4 274.5 L796.2 277.8 L798.8 272.3 L801 265.7 L804.3 275.6 L806.5 272.3 L813.1 270.8 L814.6 247 L816.8 239.3 L819 236 L821.2 229.8 L823.4 233.4 L825.9 230.5 L827.4 249.6 L829.6 251.4 L831.4 244.4 L834 248.1 L836.2 253.2 L838.8 251.4 L841.7 247.4 L844.6 247 L847.2 238.6 L849.8 243 L851.6 252.5 L854.9 256.9 L857.1 253.5 L859.2 253.2 L860.9 256.7 L863 262.7 L865.9 254.6 L867.6 232.2 L869.7 219.6 L872.1 210.1 L873.9 213.3 L875.6 226.6 L877 235 L878.8 230.1 L880.5 229.7 L882 232.9 L883.7 228.7 L885.1 231.5 L886.5 235.7 L888.2 223.8 L890 228 L891.7 229.4 L893.5 233.6 L895.2 233.3 L896.7 228.7 L898.1 231.5 L899.5 226.9 L900.9 238.5 L902.6 232.9 L904 216.5 L905.7 220.3 L907.9 228.7 L909.6 232.9 L910.7 232.9 L912.4 227.7 L915.2 227.3 L918.3 225.5 L920.8 226.6 L923.2 229.1 L924.7 233.9 L927.1 233.6 L929.2 235.3 L931.3 229.1 L934.1 233.9 L937.3 229.7 L939.7 230.8 L942.5 229.1 L946 230.8 L951.6 234.7 L953.7 233.9 L956.5 236.7 L958.3 241.3 L959.7 242 L961.1 245.9 L962.8 242 L965.9 239.9 L968.7 241.3 L970.5 239.2 L972.6 243.4 L974 245.5 L976.1 250.4 L978.9 250.1 L981.3 240.3 L983.1 242 L984.8 257.7 L986.5 242 L987.9 239.9 L989.7 231.9 L991.5 233.3 L992.6 236.7 L994.3 223.1 L996 230.1 L997.4 245.5 L999.1 245.1 L1000.6 247.3 L1002.3 245.9 L1004 246.2 L1005.1 237.8 L1006.9 237.1 L1008.6 232.9 L1011.7 233.6 L1013.5 232.5 L1014.9 234.3 L1016.7 239.9 L1018.4 243.7 L1020.1 239.9 L1022.9 243.7 L1026.1 243.1 L1028.9 239.9 L1031 235.7 L1032.7 238.5 L1034.5 235.7 L1037.3 240.3 L1038.7 229.4 L1040.5 232.5 L1041.9 232.5 L1043.6 237.1 L1046.4 236.1 L1048.1 235.7 L1049.9 229.1 L1053.4 229.4 L1057.6 229.1 L1059 225.9 L1060.1 216.8 L1061 198 L1062.4 195 L1064.4 193.6 L1066 180 L1068.4 170 L1069.6 150 L1070 136 L1072 133.6 L1073.6 127.6 L1076 126 L1077.6 127.6 L1079.6 123.6 L1081 126 L1082 98 L1082.9 83.7 L1085.6 82.6 L1087.1 80 L1089.3 94.7 L1090.8 94.7 L1092.6 81.5 L1094.8 79.3 L1097 76 L1099.2 82.6 L1101.4 78.2 L1103.6 68.3 L1105.8 79.3 L1106.9 81.5 L1108.4 107.9 L1110.2 94.7 L1112 88.8 L1113.3 93.6 L1114.6 85.9 L1115.9 54 L1117.2 38.6 L1119 32.4 L1121.2 30.2 L1123.4 35.3 L1125.2 37.5 L1126.3 36.8 L1127.8 46.3 L1129.1 49.2 L1130.9 44.1 L1133.3 45.2 L1135.5 48.5 L1137.3 44.1 L1138.8 40.8 L1140.3 23.2 L1142.1 66.8 L1143.6 57.3 L1145 55.1 L1147.2 55.8 L1149.4 50.7 L1151.6 41.9 L1154.2 33.8 L1155.8 40.5 L1157.6 41.5 L1158.7 47.5 L1159.2 49" stroke="#16c784" clip-path="url(#cUp)"/>
<path d="M50 375.3 L65.5 375.6 L70.7 376.8 L84.1 376.9 L89.3 377.9 L93.4 380 L99.6 381.7 L103.7 381 L109.9 380.7 L113 379.5 L122.4 380.5 L130.6 381 L137.9 380 L145.1 378.6 L152.3 380.3 L161.6 379.3 L170 381 L174.1 382.1 L180.3 380.5 L183.4 381 L186.5 383.6 L189.1 385.2 L190.2 391.4 L191.7 392.1 L194.3 390.3 L201 391.7 L203.6 390.8 L204.6 389.6 L207.2 391.9 L211.3 391.7 L217.5 392.7 L220.6 392.1 L223.7 394.5 L226.3 392.9 L233 394.5 L237.2 393.4 L242.4 393.4 L245.5 392.1 L249.1 392.1 L252.2 396.5 L254.2 393.4 L257.9 392.7 L263 392.7 L267.2 394.8 L273.4 394.8 L277.5 394.5 L279 390.3 L283.7 389.8 L290 389.3 L290 389.6 L292.1 388.1 L293.6 386 L295.7 388.6 L302.4 388.3 L306.5 386 L312.2 388.1 L317.9 385 L321 386 L325.7 384.1 L331.3 385.8 L336 383.9 L338.6 385.2 L349.9 385 L354.1 385.8 L359.3 384.5 L363.9 382.4 L367 382.9 L370.1 384.8 L374.2 383.4 L377.6 383.4 L378.7 377.7 L381 376.7 L387.2 374.4 L393.4 374.8 L398.5 374.1 L403.7 375.2 L406.3 374.1 L407.8 376.7 L410 377.2 L412.1 376.9 L414.1 374.6 L418.8 375.5 L420.3 373.6 L422.4 374.8 L425.5 374.6 L428.6 372.1 L432.2 374.1 L434.3 374.4 L436.4 372.6 L440 373.1 L444.1 372.1 L447.2 368.6 L451.3 368.2 L454.4 367.6 L457 368.2 L459.6 367.6 L462.2 369.3 L465.8 368.4 L468.4 370.3 L471.5 370 L474.6 375.7 L478.7 373.4 L481.3 374.4 L486.5 373.4 L492.7 375.7 L495.8 374.6 L498.9 375.5 L501.5 376.9 L506.1 377.2 L509.2 375.5 L514.9 376.5 L517.5 374.1 L522.1 375.2 L525.8 377.2 L530 377.5 L532.1 378.6 L535.2 380 L538.8 378.8 L542.4 374.8 L545.5 372.6 L549.6 370.5 L552.2 371.5 L554.3 370.7 L558.9 372.1 L563.1 372.6 L568.2 372.1 L573.4 373.4 L577.5 372.4 L580.6 373.4 L583.7 372.6 L589.9 372.6 L592 374.1 L596.1 374.1 L601.3 373.6 L605.5 372.6 L610.6 374.4 L613.2 373.1 L615.8 374.8 L618.9 375.5 L622 373.6 L625.1 372.1 L627.7 369 L630.3 365.3 L633.4 364.5 L637.5 365.9 L642.7 364.3 L646.1 360.3 L648.8 361.9 L650.4 360.6 L652 346.2 L653.6 329.4 L655.2 327.8 L657.6 330.2 L659.5 335 L661.1 323.5 L662.7 327 L666.4 324.6 L669.1 332.1 L672 323.8 L673.9 318.7 L675.5 320.6 L677.6 308.6 L680.3 308.1 L683.5 318.2 L686.7 315 L688.3 309.1 L690.9 313.4 L695.2 311 L697.6 311 L699.2 316.6 L702.4 316.1 L704.8 318.2 L708 325.7 L710.4 326.2 L712.3 323 L715.2 324.6 L719.2 325.1 L722.4 329.4 L724.8 328.3 L728.8 333.1 L732 328.9 L735.2 328.3 L737.6 326.7 L739 320.7 L741.6 322.9 L744.2 322.2 L747.1 327.3 L750 326.2 L752.6 328.4 L756.3 322.9 L759.2 325.1 L761.8 331 L764.7 326.6 L766.9 319.6 L768.4 299.8 L770.2 289.9 L772.8 286.6 L775.3 283.3 L777.5 289.2 L781.2 288.4 L783.8 289.9 L785.2 292.8 L787.4 288.8 L789.6 276 L792.6 277.8 L794.4 274.5 L796.2 277.8 L798.8 272.3 L801 265.7 L804.3 275.6 L806.5 272.3 L813.1 270.8 L814.6 247 L816.8 239.3 L819 236 L821.2 229.8 L823.4 233.4 L825.9 230.5 L827.4 249.6 L829.6 251.4 L831.4 244.4 L834 248.1 L836.2 253.2 L838.8 251.4 L841.7 247.4 L844.6 247 L847.2 238.6 L849.8 243 L851.6 252.5 L854.9 256.9 L857.1 253.5 L859.2 253.2 L860.9 256.7 L863 262.7 L865.9 254.6 L867.6 232.2 L869.7 219.6 L872.1 210.1 L873.9 213.3 L875.6 226.6 L877 235 L878.8 230.1 L880.5 229.7 L882 232.9 L883.7 228.7 L885.1 231.5 L886.5 235.7 L888.2 223.8 L890 228 L891.7 229.4 L893.5 233.6 L895.2 233.3 L896.7 228.7 L898.1 231.5 L899.5 226.9 L900.9 238.5 L902.6 232.9 L904 216.5 L905.7 220.3 L907.9 228.7 L909.6 232.9 L910.7 232.9 L912.4 227.7 L915.2 227.3 L918.3 225.5 L920.8 226.6 L923.2 229.1 L924.7 233.9 L927.1 233.6 L929.2 235.3 L931.3 229.1 L934.1 233.9 L937.3 229.7 L939.7 230.8 L942.5 229.1 L946 230.8 L951.6 234.7 L953.7 233.9 L956.5 236.7 L958.3 241.3 L959.7 242 L961.1 245.9 L962.8 242 L965.9 239.9 L968.7 241.3 L970.5 239.2 L972.6 243.4 L974 245.5 L976.1 250.4 L978.9 250.1 L981.3 240.3 L983.1 242 L984.8 257.7 L986.5 242 L987.9 239.9 L989.7 231.9 L991.5 233.3 L992.6 236.7 L994.3 223.1 L996 230.1 L997.4 245.5 L999.1 245.1 L1000.6 247.3 L1002.3 245.9 L1004 246.2 L1005.1 237.8 L1006.9 237.1 L1008.6 232.9 L1011.7 233.6 L1013.5 232.5 L1014.9 234.3 L1016.7 239.9 L1018.4 243.7 L1020.1 239.9 L1022.9 243.7 L1026.1 243.1 L1028.9 239.9 L1031 235.7 L1032.7 238.5 L1034.5 235.7 L1037.3 240.3 L1038.7 229.4 L1040.5 232.5 L1041.9 232.5 L1043.6 237.1 L1046.4 236.1 L1048.1 235.7 L1049.9 229.1 L1053.4 229.4 L1057.6 229.1 L1059 225.9 L1060.1 216.8 L1061 198 L1062.4 195 L1064.4 193.6 L1066 180 L1068.4 170 L1069.6 150 L1070 136 L1072 133.6 L1073.6 127.6 L1076 126 L1077.6 127.6 L1079.6 123.6 L1081 126 L1082 98 L1082.9 83.7 L1085.6 82.6 L1087.1 80 L1089.3 94.7 L1090.8 94.7 L1092.6 81.5 L1094.8 79.3 L1097 76 L1099.2 82.6 L1101.4 78.2 L1103.6 68.3 L1105.8 79.3 L1106.9 81.5 L1108.4 107.9 L1110.2 94.7 L1112 88.8 L1113.3 93.6 L1114.6 85.9 L1115.9 54 L1117.2 38.6 L1119 32.4 L1121.2 30.2 L1123.4 35.3 L1125.2 37.5 L1126.3 36.8 L1127.8 46.3 L1129.1 49.2 L1130.9 44.1 L1133.3 45.2 L1135.5 48.5 L1137.3 44.1 L1138.8 40.8 L1140.3 23.2 L1142.1 66.8 L1143.6 57.3 L1145 55.1 L1147.2 55.8 L1149.4 50.7 L1151.6 41.9 L1154.2 33.8 L1155.8 40.5 L1157.6 41.5 L1158.7 47.5 L1159.2 49" stroke="#ea3943" clip-path="url(#cDn)"/>
</g>
<rect x="8" y="364" width="42" height="23" fill="#969fb1"/>
<text x="27.5" y="380.6" font-size="14" fill="#fff" text-anchor="middle">3.7</text>
<line x1="69.5" x2="69.5" y1="468.2" y2="472.6" stroke="#727a8e" stroke-width="1"/>
<text class="xl" x="68.8" y="490.6">25</text>
<line x1="180.5" x2="180.5" y1="468.2" y2="472.6" stroke="#727a8e" stroke-width="1"/>
<text class="xl" x="179.8" y="490.6">28</text>
<line x1="329.5" x2="329.5" y1="468.2" y2="472.6" stroke="#727a8e" stroke-width="1"/>
<text class="xl xb" transform="translate(328.5 490.6) scale(1.14 1)">2023</text>
<line x1="440.5" x2="440.5" y1="468.2" y2="472.6" stroke="#727a8e" stroke-width="1"/>
<text class="xl" x="439.8" y="490.6">4</text>
<line x1="550.5" x2="550.5" y1="468.2" y2="472.6" stroke="#727a8e" stroke-width="1"/>
<text class="xl" x="549.8" y="490.6">7</text>
<line x1="663.5" x2="663.5" y1="468.2" y2="472.6" stroke="#727a8e" stroke-width="1"/>
<text class="xl" x="662.8" y="490.6">10</text>
<line x1="774.5" x2="774.5" y1="468.2" y2="472.6" stroke="#727a8e" stroke-width="1"/>
<text class="xl" x="773.8" y="490.6">13</text>
<line x1="885.5" x2="885.5" y1="468.2" y2="472.6" stroke="#727a8e" stroke-width="1"/>
<text class="xl" x="884.8" y="490.6">16</text>
<line x1="996.5" x2="996.5" y1="468.2" y2="472.6" stroke="#727a8e" stroke-width="1"/>
<text class="xl" x="995.8" y="490.6">19</text>
<line x1="1107.5" x2="1107.5" y1="468.2" y2="472.6" stroke="#727a8e" stroke-width="1"/>
<text class="xl" x="1106.8" y="490.6">22</text>
</svg></body></html>
